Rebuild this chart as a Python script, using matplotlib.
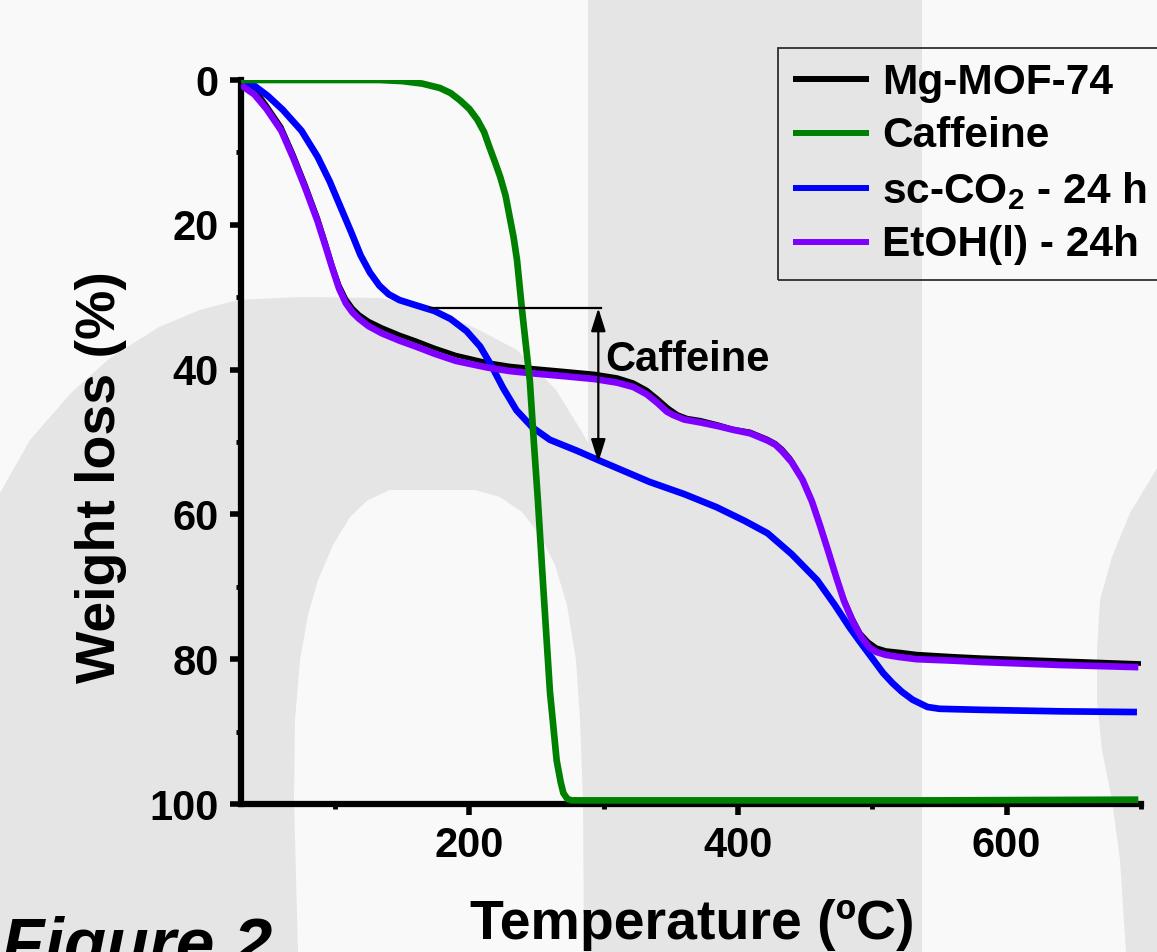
import matplotlib
matplotlib.use("Agg")
import matplotlib.pyplot as plt
from matplotlib.patches import Polygon, Rectangle

plt.rcParams['font.family'] = ['Liberation Sans', 'DejaVu Sans']
plt.rcParams['font.weight'] = 'bold'
plt.rcParams['mathtext.fontset'] = 'custom'
plt.rcParams['mathtext.rm'] = 'Liberation Sans:bold'
plt.rcParams['mathtext.bf'] = 'Liberation Sans:bold'
plt.rcParams['mathtext.it'] = 'Liberation Sans:bold:italic'

# ---------------- data ----------------
mof_T = [30, 40, 49, 60, 69, 78, 87, 93, 98, 103, 108, 113, 118, 125, 135, 148, 160, 174,
         190, 213, 230, 246, 270, 293, 310, 322, 332, 340, 348, 355, 362, 372, 385, 396,
         409, 422, 428, 433, 439, 447, 454, 460, 466, 472, 478, 485, 491, 497, 503, 510,
         520, 533, 560, 582, 640, 700]
mof_W = [0, 1.2, 3.5, 6.5, 10.3, 14.5, 19.0, 22.5, 25.6, 28.3, 30.2, 31.5, 32.4, 33.3,
         34.2, 35.2, 36.0, 37.0, 38.0, 39.0, 39.5, 39.8, 40.2, 40.6, 41.1, 41.8, 42.8,
         44.0, 45.3, 46.2, 46.7, 47.0, 47.6, 48.2, 48.6, 49.6, 50.2, 51.0, 52.3, 54.8,
         57.6, 60.8, 64.4, 68.0, 71.3, 74.3, 76.4, 77.6, 78.4, 78.8, 79.0, 79.3, 79.6,
         79.8, 80.2, 80.6]

caf_T = [30, 133, 150, 165, 178, 186, 193, 200, 206, 211, 215, 219, 223, 227, 230, 233,
         235.5, 239, 242, 245, 248, 251, 255, 260, 265, 268, 270, 273, 276, 290, 400, 550,
         698]
caf_W = [0, 0, 0.15, 0.5, 1.1, 1.8, 2.8, 4.0, 5.5, 7.2, 9.3, 11.3, 13.4, 16.0, 18.9, 21.8,
         24.9, 31.4, 36.5, 41.5, 50.0, 58.0, 70.0, 84.5, 94.0, 97.0, 98.5, 99.3, 99.5,
         99.5, 99.5, 99.5, 99.4]

sco2_T = [30, 40, 50, 61, 75, 87, 96, 104, 112, 119, 126, 133, 140, 148, 160, 174, 186,
          198, 208, 216, 225, 235, 247, 260, 280, 296, 315, 334, 360, 384, 405, 422, 440,
          459, 472, 483, 490, 496, 508, 515, 522, 530, 541, 550, 560, 582, 640, 697]
sco2_W = [0, 0.8, 2.2, 4.1, 7.0, 10.6, 14.0, 17.5, 21.0, 24.2, 26.6, 28.4, 29.6, 30.4,
          31.1, 31.9, 33.0, 34.7, 36.8, 39.3, 42.5, 45.6, 48.0, 49.7, 51.2, 52.5, 54.0,
          55.5, 57.2, 59.0, 60.9, 62.6, 65.5, 69.1, 72.5, 75.6, 77.4, 78.9, 81.9, 83.3,
          84.5, 85.6, 86.6, 86.85, 86.9, 87.0, 87.2, 87.3]

etoh_T = [30, 40, 49, 60, 69, 78, 87, 93, 98, 103, 108, 113, 118, 125, 135, 148, 160, 174,
          190, 213, 230, 246, 270, 293, 310, 322, 332, 340, 347, 352, 360, 372, 385, 396,
          409, 422, 428, 433, 440, 448, 455, 461, 467, 473, 479, 486, 492, 498, 503, 510,
          520, 533, 560, 582, 640, 698]
etoh_W = [0.7, 2.0, 4.0, 7.0, 10.8, 15.0, 19.5, 23.0, 26.0, 28.8, 30.8, 32.1, 33.0, 34.0,
          35.0, 36.0, 36.8, 37.8, 38.8, 39.7, 40.2, 40.5, 40.9, 41.3, 41.8, 42.4, 43.4,
          44.6, 45.8, 46.3, 46.9, 47.3, 47.8, 48.3, 48.8, 49.8, 50.4, 51.3, 52.8, 55.2,
          58.2, 61.5, 65.0, 68.6, 72.0, 75.0, 77.0, 78.4, 79.0, 79.4, 79.7, 80.0, 80.2,
          80.4, 80.8, 81.1]

labels = ['Mg-MOF-74', 'Caffeine', 'sc-CO$_2$ - 24 h', 'EtOH(l) - 24h']
colors = ['#000000', '#008000', '#0000ff', '#8000ff']

x_ticks = [200, 400, 600]
y_ticks = [0, 20, 40, 60, 80, 100]

# caffeine-loading bracket (T, W)
bracket_T_left, bracket_T = 171, 296
bracket_W_top, bracket_W_bot = 31.5, 52.8
bracket_label = 'Caffeine'

# ---------------- figure ----------------
W_PX, H_PX = 1157, 952
fig = plt.figure(figsize=(W_PX / 100, H_PX / 100), dpi=100, facecolor='#f9f9f9')

# background watermark (decoration in pixel space)
LIGHT, GRAY = '#f9f9f9', '#e5e5e5'
bg = fig.add_axes([0, 0, 1, 1], zorder=-5)
bg.set_xlim(0, W_PX)
bg.set_ylim(H_PX, 0)
bg.axis('off')
outer = [(0, 493), (30, 440), (71, 393), (110, 358), (159, 327), (200, 310), (238, 300),
         (300, 297), (380, 298), (430, 308), (479, 330), (517, 350), (556, 390), (582, 432),
         (592, 450), (592, 952), (0, 952)]
bg.add_patch(Polygon(outer, closed=True, facecolor=GRAY, edgecolor='none'))
inner = [(298, 952), (294, 800), (295, 720), (300, 660), (308, 615), (318, 580), (333, 545),
         (350, 517), (368, 500), (390, 490), (475, 490), (500, 497), (522, 512), (540, 535),
         (555, 565), (567, 605), (576, 660), (580, 720), (583, 800), (584, 952)]
bg.add_patch(Polygon(inner, closed=True, facecolor=LIGHT, edgecolor='none'))
bg.add_patch(Rectangle((588, 0), 334, H_PX, facecolor=GRAY, edgecolor='none'))
right = [(1157, 468), (1150, 480), (1130, 513), (1112, 557), (1100, 600), (1097, 650),
         (1097, 700), (1102, 750), (1112, 800), (1120, 860), (1126, 952), (1157, 952)]
bg.add_patch(Polygon(right, closed=True, facecolor=GRAY, edgecolor='none'))

# main axes
L, R, B, T = 241, 1141, 804, 80
ax = fig.add_axes([L / W_PX, 1 - B / H_PX, (R - L) / W_PX, (B - T) / H_PX])
ax.patch.set_alpha(0)

kw = dict(solid_capstyle='butt', solid_joinstyle='round')
ax.plot(mof_T, mof_W, color=colors[0], lw=3.4, label=labels[0], zorder=2, **kw)
ax.plot(caf_T, caf_W, color=colors[1], lw=4.8, label=labels[1], zorder=5, **kw)
ax.plot(sco2_T, sco2_W, color=colors[2], lw=4.8, label=labels[2], zorder=3, **kw)
ax.plot(etoh_T, etoh_W, color=colors[3], lw=4.8, label=labels[3], zorder=4, **kw)

ax.set_xlim(30, 700)
ax.set_ylim(100, 0)
ax.set_xticks(x_ticks)
ax.set_yticks(y_ticks)
ax.set_xticks([100, 300, 500, 700], minor=True)
ax.set_yticks([10, 30, 50, 70, 90], minor=True)

for s in ['top', 'right']:
    ax.spines[s].set_visible(False)
for s in ['left', 'bottom']:
    ax.spines[s].set_linewidth(4.5)
ax.tick_params(which='major', direction='out', length=8, width=4, labelsize=30, pad=8)
ax.tick_params(which='minor', direction='out', length=3.5, width=3.5)
for lab in ax.get_xticklabels() + ax.get_yticklabels():
    lab.set_fontweight('bold')

ax.set_xlabel('Temperature (ºC)', fontsize=40, fontweight='bold', va='baseline')
ax.xaxis.set_label_coords((692 - L) / (R - L), (B - 939) / (B - T))
ax.set_ylabel('Weight loss (%)', fontsize=40, fontweight='bold', va='center', ha='center')
ax.yaxis.set_label_coords((101 - L) / (R - L), (B - 477) / (B - T))

# caffeine bracket
ax.plot([bracket_T_left, bracket_T + 2], [bracket_W_top, bracket_W_top], color='k', lw=1.6,
        zorder=6)
ax.annotate('', xy=(bracket_T, bracket_W_bot), xytext=(bracket_T, bracket_W_top),
            arrowprops=dict(arrowstyle='<|-|>,head_length=0.7,head_width=0.22', lw=1.6,
                            color='k', mutation_scale=20, shrinkA=0, shrinkB=0), zorder=6)
ax.text(bracket_T + 5, 40.2, bracket_label, fontsize=30, fontweight='bold', va='baseline',
        ha='left', zorder=6)

leg = ax.legend(loc='upper left', bbox_to_anchor=(778 / W_PX, 1 - 48 / H_PX),
                bbox_transform=fig.transFigure, borderaxespad=0, frameon=True,
                fancybox=False, edgecolor='k', facecolor='none', framealpha=None,
                prop={'size': 30.5, 'weight': 'bold'}, handlelength=1.8, handletextpad=0.3,
                labelspacing=0.32, borderpad=0.35)
leg.get_frame().set_linewidth(1.3)
for h in leg.get_lines():
    h.set_linewidth(4.3)

fig.text(2 / W_PX, 1 - 966 / H_PX, 'Figure 2', fontsize=50, fontweight='bold',
         fontstyle='italic', ha='left', va='baseline')

fig.savefig('out.png', dpi=100, facecolor=fig.get_facecolor())
